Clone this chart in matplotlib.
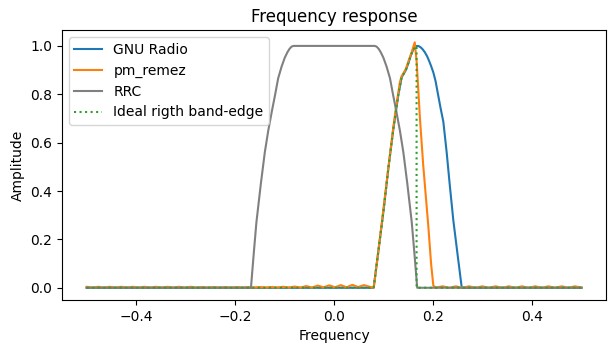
"""
Frequency response: GNU Radio taps vs pm_remez vs RRC
"""
import matplotlib
matplotlib.use('Agg')
import matplotlib.pyplot as plt
import numpy as np

# ── Data ──────────────────────────────────────────────────
# GNU Radio filter
gnu_f = [-0.5, 0.080, 0.090, 0.100, 0.110, 0.120, 0.130, 0.1365, 0.145, 0.150,
         0.155, 0.160, 0.164, 0.167, 0.171, 0.175, 0.179, 0.1836, 0.188, 0.192,
         0.196, 0.2006, 0.205, 0.210, 0.215, 0.2208, 0.2275, 0.234, 0.241,
         0.250, 0.258, 0.5]
gnu_a = [0.0, 0.0, 0.16, 0.32, 0.50, 0.66, 0.80, 0.87, 0.90, 0.928,
         0.96, 0.985, 0.997, 1.0, 0.999, 0.994, 0.986, 0.973, 0.957, 0.938,
         0.917, 0.89, 0.855, 0.80, 0.745, 0.686, 0.56,
         0.42, 0.278, 0.13, 0.0, 0.0]

# pm_remez filter: left stopband ripple, transition band, right stopband ripple
remez_left_a = [0.004, 0.001, 0.004, 0.001, 0.004, 0.001, 0.004, 0.001, 0.004, 0.001,
                0.004, 0.001, 0.004, 0.001, 0.004, 0.001, 0.004, 0.001, 0.004, 0.001,
                0.003, 0.001, 0.003, 0.001, 0.003, 0.001, 0.003, 0.001, 0.003, 0.001,
                0.003, 0.001, 0.003, 0.001, 0.004, 0.001, 0.005, 0.001, 0.007, 0.001,
                0.009, 0.002, 0.010, 0.002, 0.011, 0.002, 0.012, 0.003, 0.011, 0.004]
remez_edge_f = [0.080, 0.090, 0.100, 0.110, 0.120, 0.127, 0.133, 0.1365, 0.141,
                0.145, 0.150, 0.157, 0.163, 0.167, 0.1735, 0.180, 0.1906, 0.196,
                0.2006]
remez_edge_a = [0.0, 0.16, 0.33, 0.50, 0.67, 0.77, 0.85, 0.875, 0.89,
                0.905, 0.935, 0.975, 1.015, 0.93, 0.70, 0.51, 0.25, 0.10,
                0.008]
remez_right_a = [0.001, 0.006, 0.0, 0.006, 0.0, 0.006, 0.0, 0.006, 0.0, 0.006,
                 0.0, 0.006, 0.0, 0.006, 0.0, 0.006, 0.0, 0.006, 0.0, 0.006,
                 0.0, 0.006, 0.001]

# Root raised cosine
rrc_f = [-0.5, -0.168, -0.162, -0.157, -0.148, -0.140, -0.133, -0.126, -0.119,
         -0.113, -0.106, -0.0995, -0.094, -0.090, -0.086, -0.082,
         0.082, 0.086, 0.090, 0.094, 0.0995, 0.106, 0.113, 0.119, 0.126, 0.133,
         0.140, 0.148, 0.157, 0.162, 0.168, 0.5]
rrc_a = [0.0, 0.0, 0.15, 0.27, 0.43, 0.56, 0.65, 0.727, 0.80,
         0.866, 0.915, 0.952, 0.975, 0.988, 0.997, 1.0,
         1.0, 0.997, 0.988, 0.975, 0.952, 0.915, 0.866, 0.80, 0.727, 0.65,
         0.56, 0.43, 0.27, 0.15, 0.0, 0.0]

# Ideal right band-edge
ideal_f = [-0.5, 0.080, 0.090, 0.100, 0.110, 0.120, 0.130, 0.1365, 0.145, 0.150,
           0.155, 0.160, 0.1667, 0.1667, 0.5]
ideal_a = [0.0, 0.0, 0.16, 0.32, 0.50, 0.66, 0.80, 0.87, 0.90, 0.928,
           0.96, 0.985, 1.0, 0.0, 0.0]

remez_f = (list(np.linspace(-0.5, 0.072, len(remez_left_a))) + remez_edge_f
           + list(np.linspace(0.206, 0.5, len(remez_right_a))))
remez_a = remez_left_a + remez_edge_a + remez_right_a

# ── Figure ────────────────────────────────────────────────
fig, ax = plt.subplots(figsize=(6.13, 3.53), dpi=100)
fig.subplots_adjust(left=0.101, right=0.989, top=0.915, bottom=0.150)

ax.plot(gnu_f, gnu_a, label='GNU Radio')
ax.plot(remez_f, remez_a, label='pm_remez')
ax.plot(rrc_f, rrc_a, color='gray', label='RRC')
ax.plot(ideal_f, ideal_a, ':', label='Ideal rigth band-edge')

ax.set_title('Frequency response')
ax.set_xlabel('Frequency')
ax.set_ylabel('Amplitude')
ax.legend(loc='upper left')

fig.savefig('out.png', dpi=100)
